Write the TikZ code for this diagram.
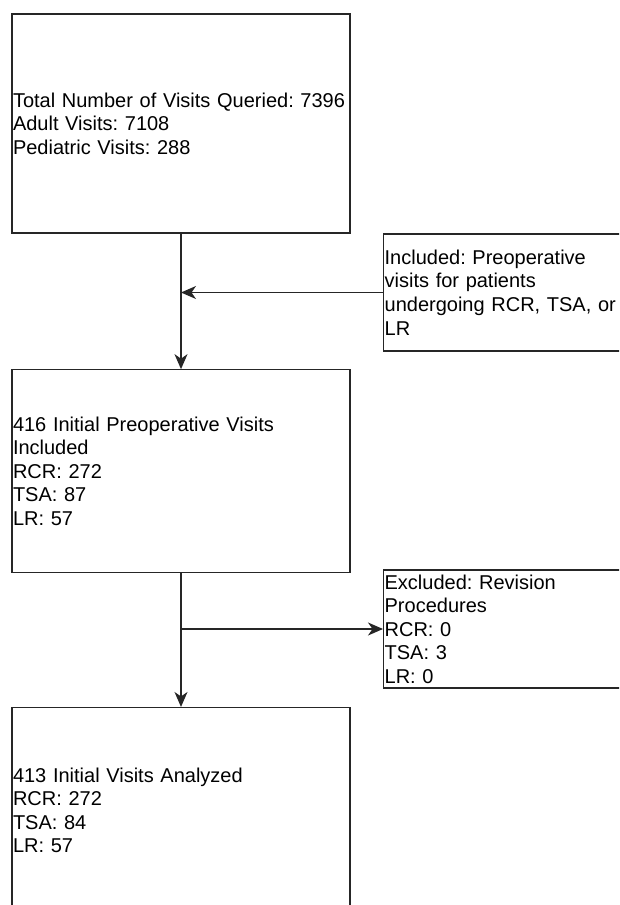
\documentclass[tikz,border=0pt]{standalone}
\usepackage{fontspec}
\setmainfont{Liberation Sans}
\usetikzlibrary{arrows.meta,positioning}

\begin{document}
\frenchspacing
\begin{tikzpicture}
  [
  x=1pt,y=-1pt,
  box/.style={rectangle,draw=black!85,line width=1.3pt,inner xsep=1pt,inner ysep=0pt,
    align=left,text=black,font=\fontsize{20}{23.5}\selectfont},
  mainbox/.style={box,text width=336pt,minimum width=338pt},
  sidebox/.style={box,text width=260pt,anchor=west},
  post/.style={->,line width=1.3pt,draw=black!85,>={Stealth[length=15pt,width=13pt,inset=4.5pt]}}
  ]
  \useasboundingbox (0,0) rectangle (619,905);
  \clip (0,0) rectangle (619,905);
  \node[mainbox,minimum height=219pt] (total) at (181,123.5)
    {Total Number of Visits Queried: 7396\\Adult Visits: 7108\\Pediatric Visits: 288};
  \node[mainbox,minimum height=202.5pt] (initial) [below = 135.5pt of total]
    {416 Initial Preoperative Visits\\Included\\RCR: 272\\TSA: 87\\LR: 57};
  \node[mainbox,minimum height=205pt] (analyzed) [below = 134pt of initial]
    {413 Initial Visits Analyzed\\RCR: 272\\TSA: 84\\LR: 57};
  \node[sidebox,minimum height=117pt] (included) at (383,292.5)
    {Included: Preoperative\\visits for patients\\undergoing RCR, TSA, or\\LR};
  \node[sidebox,minimum height=118pt] (excluded) at (383,629)
    {Excluded: Revision\\Procedures\\RCR: 0\\TSA: 3\\LR: 0};
  \draw[post] (total.south) -- (initial.north);
  \draw[post] (included.west) -- (total.south |- included.west);
  \draw[post] (initial.south) -- (analyzed.north);
  \draw[post] (initial.south |- excluded.west) -- (excluded.west);
\end{tikzpicture}
\end{document}
